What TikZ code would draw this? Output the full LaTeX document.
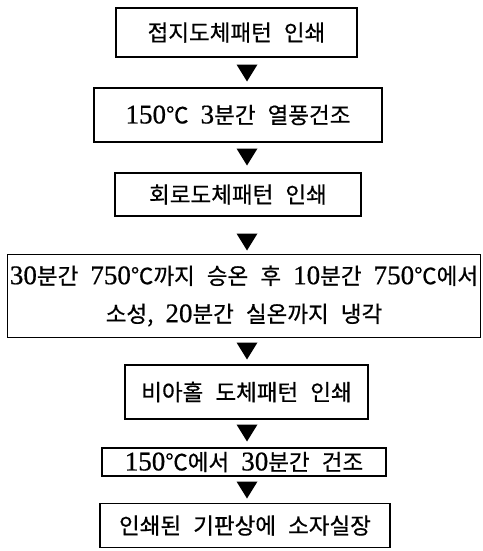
\documentclass[tikz,border=0pt]{standalone}
\usepackage{fontspec}
\setmainfont[WordSpace=2.4, FakeBold=0.6]{Noto Sans CJK KR}
\newfontfamily\numfont[Scale=1.2, FakeBold=0.6]{Liberation Serif}
\newcommand\nm[1]{{\numfont #1}}
\tikzset{
  stepbox/.style={draw=black, line width=1.6pt, inner sep=0pt, align=center,
    font=\fontsize{22.5}{38}\selectfont},
  tri/.style={fill=black},
}
\begin{document}
\begin{tikzpicture}[x=1pt,y=-1pt]
\useasboundingbox (0,0) rectangle (482,551);
\fill[white] (0,0) rectangle (482,551);
\node[stepbox, minimum width=241pt, minimum height=49pt] (b1) at (236.5,32.5) {접지도체패턴 인쇄};
\node[stepbox, minimum width=288pt, minimum height=54pt] (b2) at (238,115) {\nm{150}℃ \nm{3}분간 열풍건조};
\node[stepbox, minimum width=246pt, minimum height=43pt] (b3) at (238,194.5) {회로도체패턴 인쇄};
\node[stepbox, minimum width=473pt, minimum height=83pt] (b4) at (244,296) {\nm{30}분간 \nm{750}℃까지 승온 후 \nm{10}분간 \nm{750}℃에서\\소성, \nm{20}분간 실온까지 냉각};
\node[stepbox, minimum width=243pt, minimum height=54pt] (b5) at (246.5,392) {비아홀 도체패턴 인쇄};
\node[stepbox, minimum width=284pt, minimum height=28pt] (b6) at (244,462) {\nm{150}℃에서 \nm{30}분간 건조};
\node[stepbox, minimum width=290pt, minimum height=44pt] (b7) at (245,525.5) {인쇄된 기판상에 소자실장};
\coordinate (t1) at (247,73);
\coordinate (t2) at (247,157);
\coordinate (t3) at (247,242);
\coordinate (t4) at (247,351);
\coordinate (t5) at (247,433);
\coordinate (t6) at (247,490);
\foreach \t in {t1,t2,t3,t4,t5,t6}
  \fill[tri] (\t) ++(-10.5,-8.5) -- ++(21,0) -- ++(-10.5,17) -- cycle;
\end{tikzpicture}
\end{document}
